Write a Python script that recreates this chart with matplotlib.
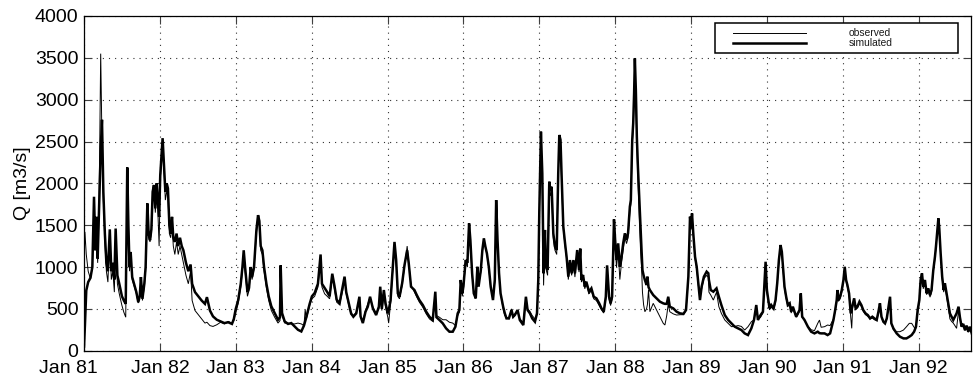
import numpy as np
import matplotlib
matplotlib.use("Agg")
import matplotlib.pyplot as plt
from matplotlib.patches import Rectangle
from matplotlib.lines import Line2D
from matplotlib.transforms import ScaledTranslation

t_year = [
    1981.000, 1981.012, 1981.030, 1981.055, 1981.085, 1981.110, 1981.132, 1981.150,
    1981.165, 1981.180, 1981.198, 1981.220, 1981.237, 1981.255, 1981.275, 1981.295,
    1981.315, 1981.340, 1981.360, 1981.380, 1981.400, 1981.417, 1981.440, 1981.465,
    1981.500, 1981.525, 1981.550, 1981.570, 1981.585, 1981.600, 1981.615, 1981.635,
    1981.665, 1981.690, 1981.715, 1981.735, 1981.750, 1981.770, 1981.795, 1981.812,
    1981.835, 1981.852, 1981.870, 1981.888, 1981.905, 1981.922, 1981.940, 1981.957,
    1981.972, 1981.990,
    1982.005, 1982.036, 1982.055, 1982.072, 1982.090, 1982.106, 1982.125, 1982.142,
    1982.160, 1982.177, 1982.197, 1982.220, 1982.242, 1982.265, 1982.288, 1982.310,
    1982.344, 1982.375, 1982.405, 1982.425, 1982.463, 1982.507, 1982.550, 1982.594,
    1982.620, 1982.660, 1982.700, 1982.750, 1982.800, 1982.850, 1982.900, 1982.950,
    1982.975,
    1983.000, 1983.031, 1983.066, 1983.088, 1983.105, 1983.123, 1983.154, 1983.175,
    1983.197, 1983.215, 1983.241, 1983.272, 1983.294, 1983.311, 1983.329, 1983.351,
    1983.373, 1983.404, 1983.434, 1983.469, 1983.513, 1983.557, 1983.583, 1983.592,
    1983.610, 1983.645, 1983.689, 1983.732, 1983.776, 1983.820, 1983.864, 1983.899,
    1983.915, 1983.930, 1983.974,
    1984.004, 1984.040, 1984.083, 1984.118, 1984.136, 1984.171, 1984.206, 1984.237,
    1984.272, 1984.300, 1984.330, 1984.368, 1984.410, 1984.434, 1984.456, 1984.490,
    1984.520, 1984.550, 1984.588, 1984.630, 1984.645, 1984.675, 1984.710, 1984.740,
    1984.770, 1984.807, 1984.850, 1984.886, 1984.904, 1984.925, 1984.952, 1984.974,
    1985.004, 1985.015, 1985.040, 1985.061, 1985.092, 1985.114, 1985.136, 1985.158,
    1985.193, 1985.224, 1985.259, 1985.280, 1985.310, 1985.355, 1985.386, 1985.420,
    1985.465, 1985.510, 1985.553, 1985.596, 1985.630, 1985.645, 1985.684, 1985.728,
    1985.772, 1985.816, 1985.860, 1985.895, 1985.925, 1985.947, 1985.965, 1985.985,
    1986.000, 1986.030, 1986.053, 1986.075, 1986.092, 1986.115, 1986.137, 1986.163,
    1986.185, 1986.200, 1986.230, 1986.250, 1986.270, 1986.290, 1986.310, 1986.335,
    1986.360, 1986.390, 1986.414, 1986.432, 1986.450, 1986.470, 1986.490, 1986.524,
    1986.546, 1986.568, 1986.600, 1986.634, 1986.656, 1986.678, 1986.714, 1986.744,
    1986.790, 1986.824, 1986.846, 1986.877, 1986.907, 1986.943, 1986.970, 1986.987,
    1987.000, 1987.022, 1987.040, 1987.057, 1987.075, 1987.088, 1987.110, 1987.132,
    1987.145, 1987.163, 1987.185, 1987.207, 1987.230, 1987.250, 1987.264, 1987.280,
    1987.295, 1987.317, 1987.340, 1987.360, 1987.383, 1987.405, 1987.427, 1987.450,
    1987.470, 1987.500, 1987.524, 1987.540, 1987.556, 1987.577, 1987.600, 1987.620,
    1987.656, 1987.687, 1987.718, 1987.753, 1987.790, 1987.820, 1987.850, 1987.877,
    1987.894, 1987.920, 1987.940, 1987.960, 1987.985,
    1988.000, 1988.018, 1988.040, 1988.062, 1988.084, 1988.106, 1988.128, 1988.150,
    1988.170, 1988.194, 1988.207, 1988.225, 1988.238, 1988.250, 1988.260, 1988.273,
    1988.286, 1988.300, 1988.317, 1988.335, 1988.348, 1988.360, 1988.375, 1988.392,
    1988.414, 1988.425, 1988.440, 1988.458, 1988.502, 1988.546, 1988.590, 1988.634,
    1988.656, 1988.680, 1988.700, 1988.720, 1988.766, 1988.810, 1988.855, 1988.900,
    1988.934, 1988.965, 1988.987,
    1989.000, 1989.013, 1989.030, 1989.053, 1989.075, 1989.096, 1989.118, 1989.140,
    1989.170, 1989.206, 1989.228, 1989.236, 1989.260, 1989.294, 1989.336, 1989.367,
    1989.400, 1989.445, 1989.490, 1989.533, 1989.576, 1989.620, 1989.664, 1989.707,
    1989.751, 1989.795, 1989.830, 1989.860, 1989.882, 1989.917, 1989.948, 1989.970,
    1989.983,
    1990.000, 1990.013, 1990.035, 1990.057, 1990.088, 1990.114, 1990.136, 1990.158,
    1990.180, 1990.197, 1990.215, 1990.232, 1990.254, 1990.276, 1990.300, 1990.320,
    1990.342, 1990.364, 1990.386, 1990.408, 1990.430, 1990.447, 1990.465, 1990.496,
    1990.540, 1990.583, 1990.627, 1990.670, 1990.693, 1990.715, 1990.760, 1990.800,
    1990.833, 1990.855, 1990.877, 1990.900, 1990.920, 1990.930, 1990.943, 1990.965,
    1990.987,
    1991.009, 1991.026, 1991.044, 1991.061, 1991.083, 1991.105, 1991.118, 1991.130,
    1991.150, 1991.170, 1991.193, 1991.220, 1991.245, 1991.270, 1991.300, 1991.330,
    1991.360, 1991.390, 1991.417, 1991.447, 1991.470, 1991.490, 1991.510, 1991.535,
    1991.557, 1991.580, 1991.600, 1991.623, 1991.640, 1991.667, 1991.710, 1991.754,
    1991.800, 1991.840, 1991.877, 1991.908, 1991.940, 1991.965, 1991.987,
    1992.009, 1992.026, 1992.044, 1992.061, 1992.083, 1992.105, 1992.127, 1992.150,
    1992.170, 1992.193, 1992.215, 1992.228, 1992.246, 1992.260, 1992.272, 1992.290,
    1992.310, 1992.330, 1992.346, 1992.368, 1992.390, 1992.412, 1992.434, 1992.456,
    1992.478, 1992.500, 1992.526, 1992.544, 1992.566, 1992.588, 1992.610, 1992.632,
    1992.654, 1992.675, 1992.700,
]

q_sim = [
    50, 300, 720, 820, 870, 1000, 1840, 1200,
    1600, 1100, 1700, 2400, 2760, 1900, 1400, 1050,
    950, 1450, 950, 1050, 850, 1460, 900, 800,
    650, 600, 560, 2190, 1500, 1000, 1180, 880,
    780, 700, 580, 650, 880, 620, 800, 1000,
    1760, 1400, 1320, 1450, 1900, 1980, 1700, 2000,
    1800, 1600,
    2100, 2540, 2200, 1900, 2000, 1940, 1500, 1400,
    1600, 1350, 1300, 1400, 1250, 1350, 1250, 1200,
    1050, 950, 1030, 800, 700, 650, 600, 560,
    640, 480, 410, 370, 350, 330, 340, 320,
    380,
    500, 600, 800, 1000, 1200, 1000, 700, 750,
    1000, 880, 1000, 1440, 1620, 1550, 1250, 1200,
    1000, 800, 650, 530, 450, 370, 400, 1020,
    450, 350, 320, 330, 290, 250, 230, 300,
    350, 400, 560,
    650, 690, 800, 1150, 800, 750, 700, 650,
    920, 780, 610, 566, 765, 885, 700, 566,
    446, 406, 446, 645, 410, 330, 466, 526,
    645, 506, 426, 526, 765, 500, 725, 566,
    446, 480, 600, 885, 1300, 1083, 685, 645,
    806, 1024, 1200, 1043, 765, 725, 665, 605,
    546, 466, 406, 367, 705, 400, 367, 327,
    267, 227, 227, 287, 446, 486, 845, 685,
    765, 1083, 1050, 1522, 1323, 925, 685, 625,
    1003, 765, 965, 1203, 1343, 1243, 1163, 1003,
    765, 605, 845, 1800, 1323, 925, 685, 526,
    446, 386, 386, 486, 406, 426, 486, 366,
    306, 645, 486, 446, 386, 346, 446, 845,
    1642, 2618, 2120, 925, 1443, 1003, 965, 2020,
    1920, 1960, 1403, 1243, 1203, 2120, 2578, 2520,
    2080, 1483, 1283, 1123, 885, 1083, 925, 1083,
    925, 1203, 965, 1220, 845, 905, 765, 825,
    705, 745, 645, 626, 566, 506, 466, 645,
    1020, 645, 566, 645, 1570,
    1322, 1083, 1283, 1003, 1123, 1283, 1403, 1323,
    1403, 1722, 1800, 2518, 2718, 3076, 3494, 3116,
    2558, 2200, 1840, 1482, 1203, 965, 900, 845,
    785, 885, 760, 725, 665, 626, 586, 566,
    560, 560, 645, 526, 506, 466, 446, 440,
    486, 885, 1602,
    1466, 1641, 1400, 1123, 1003, 805, 605, 765,
    885, 945, 925, 845, 725, 705, 745, 645,
    546, 426, 367, 327, 287, 267, 247, 207,
    187, 267, 367, 546, 367, 426, 466, 845,
    1063,
    725, 645, 506, 546, 506, 605, 806, 1083,
    1263, 1183, 965, 765, 645, 546, 566, 466,
    526, 466, 406, 446, 486, 685, 406, 367,
    287, 227, 207, 227, 210, 207, 207, 187,
    207, 287, 367, 486, 605, 725, 605, 645,
    725,
    845, 1003, 845, 785, 685, 446, 500, 546,
    626, 506, 526, 586, 546, 486, 446, 426,
    386, 406, 386, 367, 466, 566, 406, 347,
    327, 386, 506, 645, 327, 267, 207, 167,
    147, 147, 167, 187, 227, 287, 486,
    605, 845, 924, 765, 845, 685, 745, 665,
    725, 964, 1123, 1243, 1442, 1582, 1462, 1163,
    885, 725, 805, 685, 566, 446, 406, 367,
    406, 446, 526, 400, 287, 320, 247, 300,
    227, 287, 207,
]

q_obs = [
    1000, 1420, 1150, 950, 860, 1000, 1800, 1250,
    1550, 1050, 1650, 3550, 2500, 1800, 1300, 950,
    820, 1400, 850, 950, 700, 1400, 800, 680,
    540, 460, 400, 2150, 1450, 950, 1150, 850,
    760, 680, 570, 640, 850, 600, 760, 950,
    1700, 1350, 1300, 1400, 1850, 1950, 1650, 1950,
    1700, 1250,
    2050, 2400, 2150, 1800, 1900, 1850, 1400, 1350,
    1500, 1250, 1150, 1300, 1150, 1250, 1150, 1050,
    900, 800, 950, 600, 480, 430, 380, 330,
    340, 300, 290, 310, 340, 320, 350, 330,
    360,
    460, 560, 760, 950, 1150, 950, 650, 720,
    950, 850, 980, 1400, 1580, 1500, 1200, 1150,
    950, 750, 600, 480, 400, 330, 360, 980,
    420, 330, 330, 320, 320, 330, 320, 300,
    490, 380, 540,
    620, 650, 760, 1100, 760, 680, 650, 620,
    880, 740, 580, 550, 720, 850, 680, 540,
    430, 420, 460, 600, 400, 360, 480, 560,
    640, 520, 450, 500, 720, 480, 690, 520,
    400, 330, 560, 850, 1250, 1050, 650, 620,
    780, 1000, 1250, 1050, 780, 700, 640, 580,
    520, 440, 380, 350, 680, 420, 400, 370,
    370, 340, 330, 300, 420, 460, 800, 650,
    740, 1050, 1000, 1450, 1300, 900, 700, 640,
    980, 780, 940, 1180, 1300, 1250, 1150, 980,
    750, 620, 820, 1750, 1300, 900, 680, 500,
    420, 400, 380, 500, 390, 440, 470, 380,
    340, 620, 500, 470, 420, 380, 430, 800,
    1600, 2600, 2000, 780, 1400, 980, 900, 2000,
    1850, 1900, 1350, 1200, 1150, 2050, 2550, 2400,
    2000, 1450, 1250, 1100, 850, 1050, 900, 1050,
    880, 1150, 940, 1100, 820, 880, 740, 800,
    680, 720, 620, 600, 540, 490, 450, 620,
    980, 620, 540, 620, 1540,
    1250, 1000, 1200, 850, 1050, 1200, 1350, 1280,
    1350, 1650, 1750, 2450, 2650, 3000, 3450, 3000,
    2450, 2050, 1600, 1200, 1000, 700, 550, 466,
    500, 550, 725, 466, 566, 486, 406, 327,
    307, 420, 560, 466, 440, 426, 430, 430,
    480, 850, 1560,
    1450, 1600, 1380, 1100, 980, 780, 650, 740,
    860, 900, 880, 700, 665, 605, 700, 526,
    446, 367, 327, 287, 290, 300, 290, 247,
    287, 346, 370, 520, 380, 400, 450, 820,
    1050,
    700, 620, 490, 520, 490, 580, 780, 1050,
    1240, 1160, 940, 740, 620, 530, 550, 450,
    510, 450, 400, 430, 470, 650, 400, 360,
    290, 250, 240, 327, 366, 280, 287, 307,
    300, 340, 380, 470, 580, 700, 590, 620,
    700,
    820, 1000, 830, 760, 660, 400, 267, 520,
    600, 490, 510, 560, 530, 470, 430, 410,
    380, 390, 370, 360, 450, 540, 400, 340,
    320, 380, 490, 620, 330, 250, 227, 227,
    247, 287, 327, 327, 280, 270, 450,
    580, 820, 900, 740, 820, 670, 720, 640,
    700, 940, 1100, 1220, 1420, 1550, 1440, 1140,
    860, 700, 780, 650, 520, 380, 350, 330,
    300, 267, 480, 380, 300, 300, 240, 280,
    220, 270, 200,
]

tick_years = list(range(1981, 1993))
tick_labels = ["Jan 81", "Jan 82", "Jan 83", "Jan 84", "Jan 85", "Jan 86",
               "Jan 87", "Jan 88", "Jan 89", "Jan 90", "Jan 91", "Jan 92"]
y_ticks = list(range(0, 4001, 500))

plt.rcParams["font.family"] = ["Liberation Sans", "DejaVu Sans"]

W, H = 973, 382
fig = plt.figure(figsize=(W / 100, H / 100), dpi=100)
# axes box in pixel terms: left 84, right 971, top 16, bottom 350.7
ax = fig.add_axes([84 / W, 1 - 350.7 / H, (971 - 84) / W, (350.7 - 16) / H])

ax.plot(t_year, q_obs, color="black", lw=0.7, solid_joinstyle="miter")
ax.plot(t_year, q_sim, color="black", lw=1.8, solid_joinstyle="miter")

ax.set_xlim(1981.0, 1992.69)
ax.set_ylim(0, 4000)
ax.set_xticks(tick_years)
ax.set_xticklabels(tick_labels)
ax.set_yticks(y_ticks)
ax.tick_params(direction="in", length=6, width=0.8, labelsize=14,
               top=True, right=True, color="0.25")
ax.tick_params(axis="x", pad=6.5)
ax.tick_params(axis="y", pad=4)
ax.grid(True, color="0.2", lw=0.8, linestyle=(0, (1, 4.5)))
for sp in ax.spines.values():
    sp.set_linewidth(0.9)
ax.set_ylabel("Q [m3/s]", fontsize=14, labelpad=3)

# the first date label sits left of its tick in the original
first = ax.get_xticklabels()[0]
first.set_transform(first.get_transform()
                    + ScaledTranslation(-16 / 100, 0, fig.dpi_scale_trans))


# hand-made MATLAB style legend, positions given in figure pixels
def to_ax(px, py):
    return (px - 84) / (971 - 84), (350.7 - py) / (350.7 - 16)


x0, y1 = to_ax(715, 23)
x1, y0 = to_ax(958, 53)
ax.add_patch(Rectangle((x0, y0), x1 - x0, y1 - y0, transform=ax.transAxes,
                       facecolor="white", edgecolor="black", lw=1.1, zorder=5))
for py, lw, label in [(33, 0.7, "observed"), (43, 1.8, "simulated")]:
    lx0, ly = to_ax(733, py)
    lx1, _ = to_ax(806, py)
    ax.add_line(Line2D([lx0, lx1], [ly, ly], transform=ax.transAxes,
                       color="black", lw=lw, zorder=6))
    tx, _ = to_ax(849, py)
    ax.text(tx, ly, label, transform=ax.transAxes, fontsize=7.4,
            va="center", ha="left", color="0.1", zorder=6)

fig.savefig("out.png", dpi=100)
